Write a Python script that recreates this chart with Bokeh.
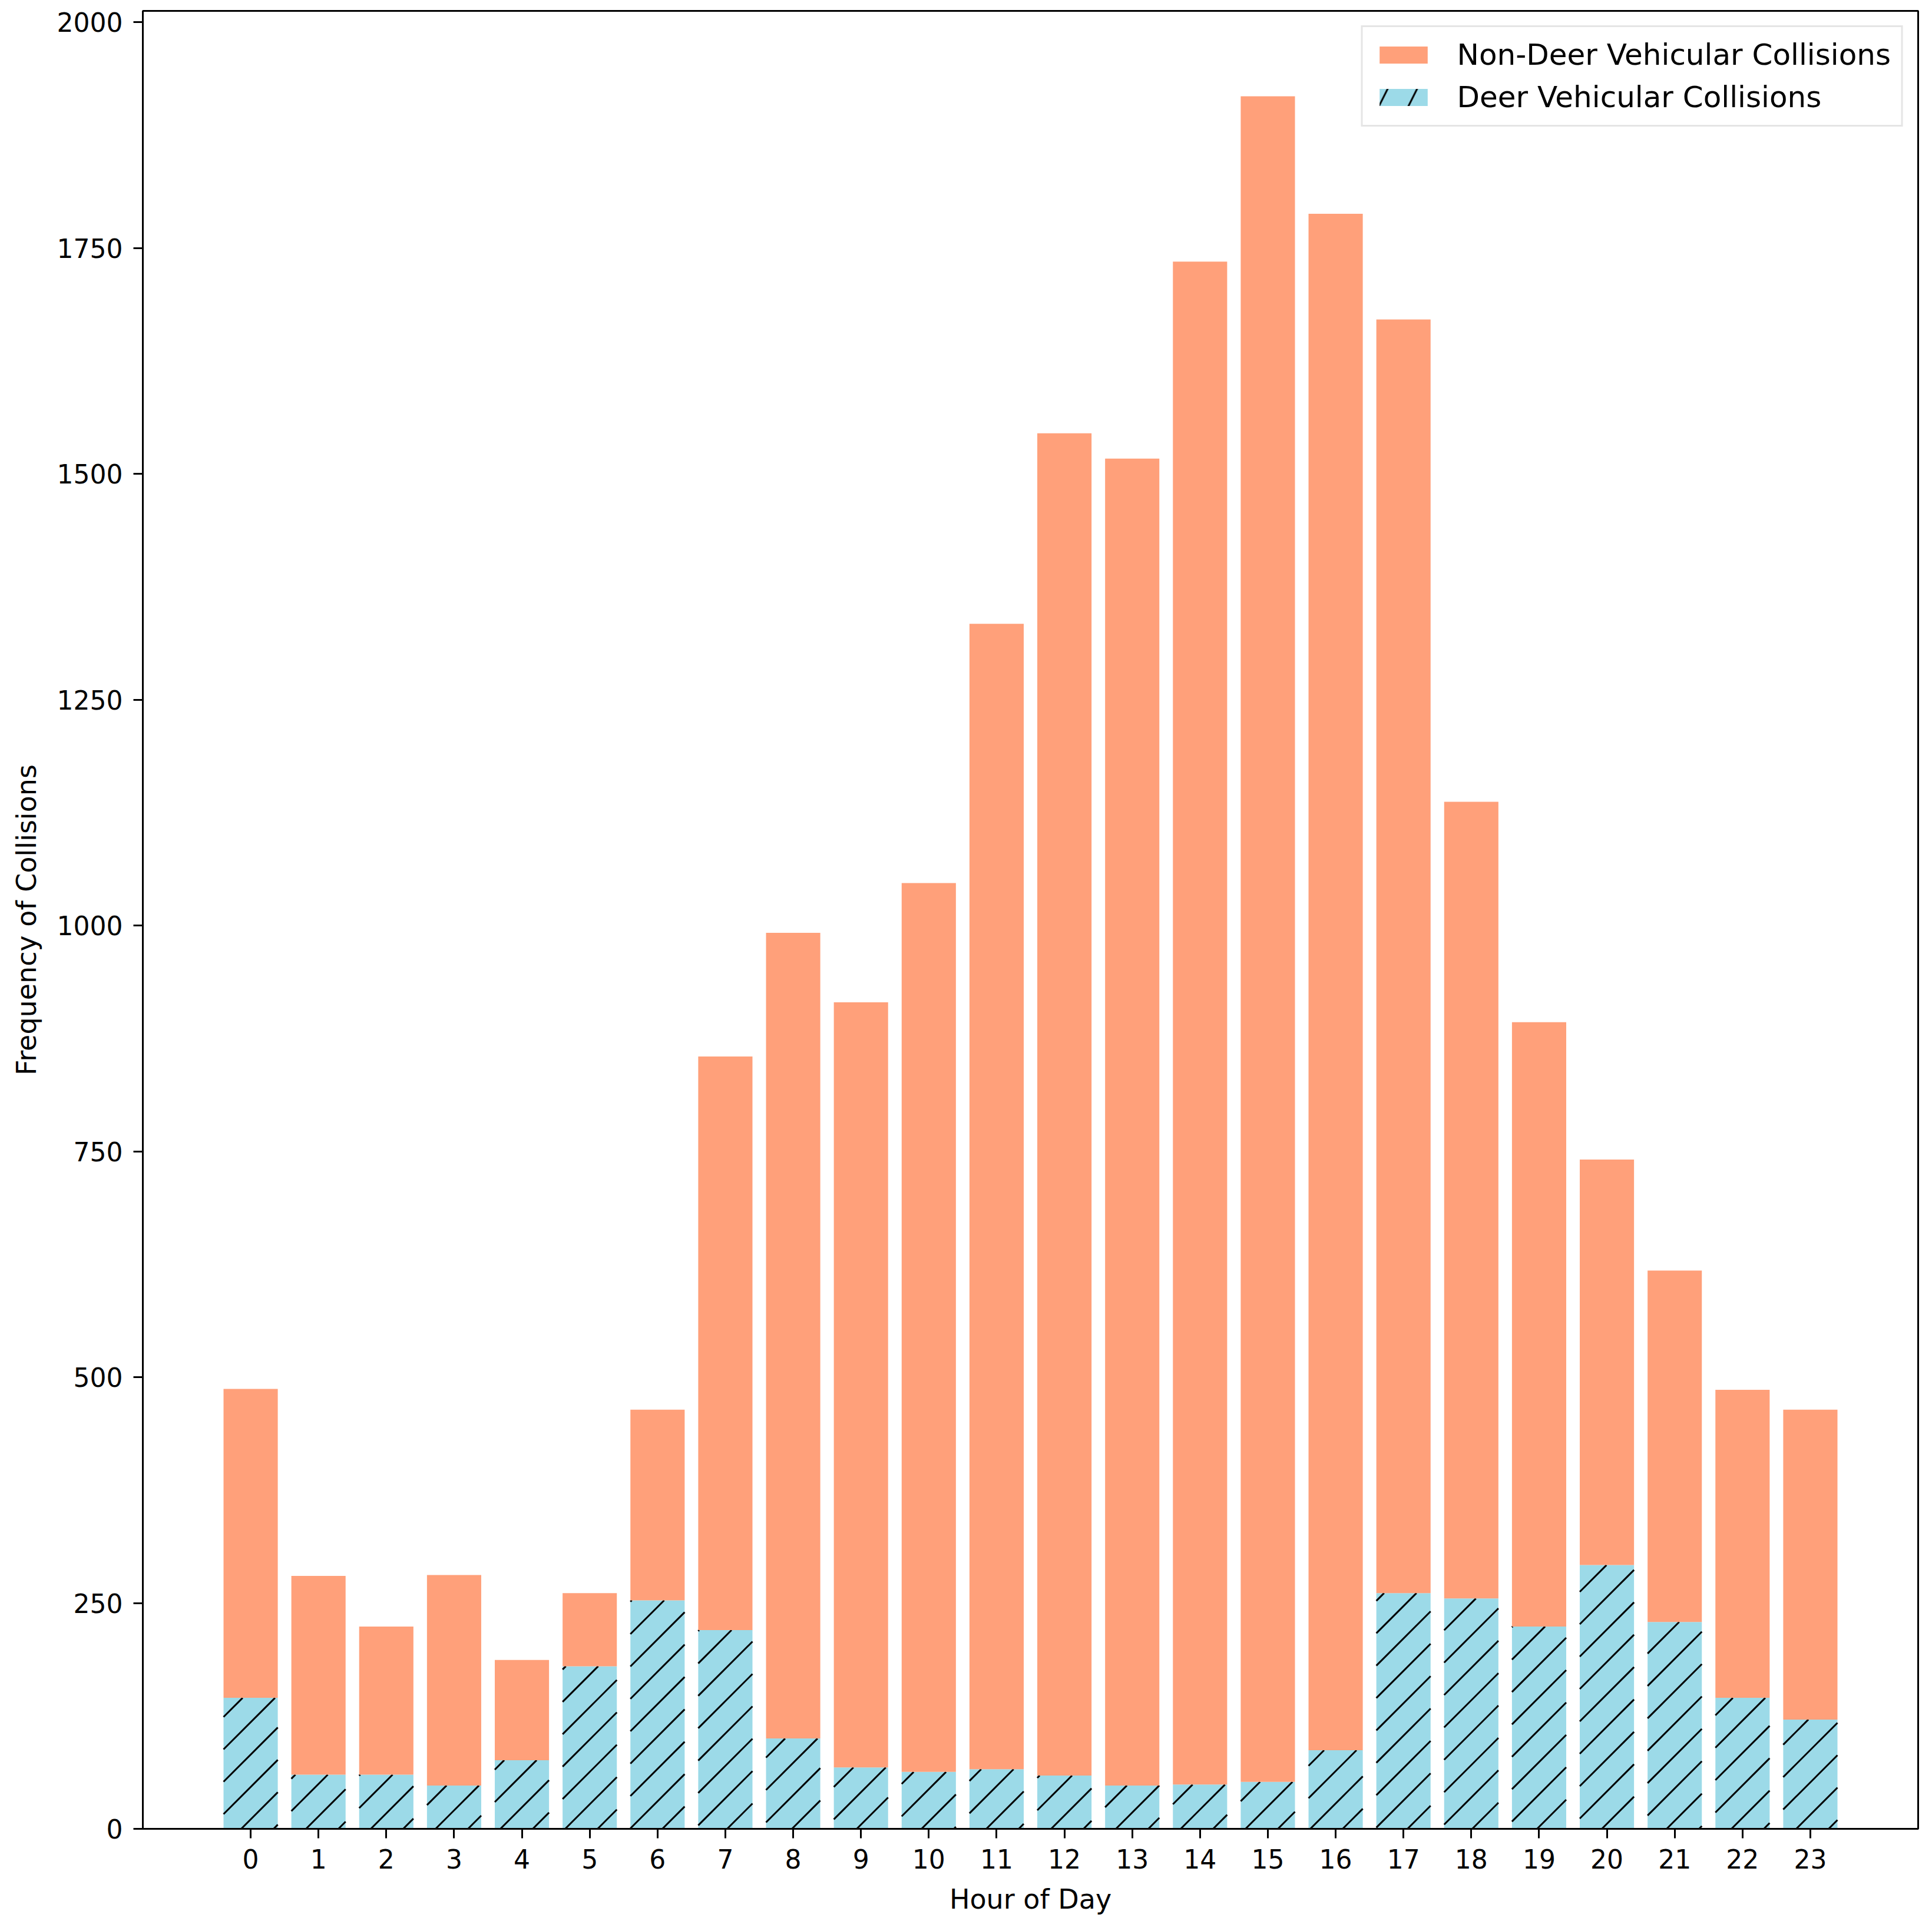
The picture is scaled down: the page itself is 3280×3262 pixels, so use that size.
import numpy as np
from bokeh.plotting import figure
from bokeh.embed import file_html
from bokeh.resources import INLINE
from bokeh.models import (
    ColumnDataSource,
    Range1d,
    FixedTicker,
    Legend,
    LegendItem,
)

# ── Data ──────────────────────────────────────────────────
hours = list(range(24))
deer = [145, 60, 60, 48, 76, 180, 253, 220, 100, 68, 63, 66,
        59, 48, 49, 52, 87, 261, 255, 224, 292, 229, 145, 121]
non_deer = [342, 220, 164, 233, 111, 81, 211, 635, 892, 847, 984, 1268,
            1486, 1469, 1686, 1866, 1701, 1410, 882, 669, 449, 389, 341, 343]
y_ticks = [0, 250, 500, 750, 1000, 1250, 1500, 1750, 2000]

COLORS = {
    "non_deer": "#FFA07A",
    "deer": "#9CDAE8",
    "hatch": "#000000",
    "axis": "#000000",
    "legend_border": "#cccccc",
}
FONT = "DejaVu Sans"

# ── Layout ─────────────────────────────────────────────────
WIDTH, HEIGHT = 3272, 3254
BORDER_L, BORDER_R, BORDER_T = 242, 16, 18
FRAME_H = 3087                      # height left for the frame below the top border
X_LO, X_HI = -1.59, 24.59
Y_HI = 2012.6
BAR_W = 0.8

src = ColumnDataSource(dict(
    hour=hours,
    deer=deer,
    non_deer=non_deer,
    total=(np.array(deer) + np.array(non_deer)).tolist(),
))

# ── 45° "/" hatch lines clipped to each deer bar ───────────
# (bokeh's own "/" pattern is steeper, so the lines are built in screen space)
sx = (WIDTH - BORDER_L - BORDER_R) / (X_HI - X_LO)   # px per hour
sy = FRAME_H / Y_HI                                   # px per collision
step, phase = 55.0, 2.0
hx0, hy0, hx1, hy1 = [], [], [], []
for h, d in zip(hours, deer):
    left = (h - BAR_W / 2 - X_LO) * sx
    right = (h + BAR_W / 2 - X_LO) * sx
    top = d * sy
    k0 = int(np.floor((left - top - phase) / step))
    k1 = int(np.ceil((right - phase) / step))
    for k in range(k0, k1 + 1):
        c = phase + k * step
        lo, hi = max(left, c), min(right, c + top)
        if hi - lo > 1:
            hx0.append(lo / sx + X_LO)
            hy0.append((lo - c) / sy)
            hx1.append(hi / sx + X_LO)
            hy1.append((hi - c) / sy)
hatch_src = ColumnDataSource(dict(x0=hx0, y0=hy0, x1=hx1, y1=hy1))

p = figure(
    width=WIDTH,
    height=HEIGHT,
    x_range=Range1d(X_LO, X_HI),
    y_range=Range1d(0, Y_HI),
    output_backend="svg",
    toolbar_location=None,
    tools="",
    min_border_left=BORDER_L,
    min_border_right=BORDER_R,
    min_border_top=BORDER_T,
    min_border_bottom=140,
    background_fill_color="white",
    border_fill_color="white",
)

# Bars: deer at the bottom (hatched), non-deer stacked on top
p.vbar(x="hour", bottom=0, top="deer", width=BAR_W, source=src,
       fill_color=COLORS["deer"], line_color=None)
p.segment("x0", "y0", "x1", "y1", source=hatch_src,
          line_color=COLORS["hatch"], line_width=3)
r_non = p.vbar(x="hour", bottom="deer", top="total", width=BAR_W, source=src,
               fill_color=COLORS["non_deer"], line_color=None)

# off-screen renderer that only supplies the hatched legend patch
r_deer_key = p.vbar(x="x", top="top", width=BAR_W,
                    source=ColumnDataSource(dict(x=[-100], top=[1])),
                    fill_color=COLORS["deer"], line_color=None,
                    hatch_pattern="/", hatch_color=COLORS["hatch"],
                    hatch_weight=3, hatch_scale=100)

# Axes styling
p.xgrid.grid_line_color = None
p.ygrid.grid_line_color = None
p.outline_line_color = COLORS["axis"]
p.outline_line_width = 3
p.outline_line_alpha = 1

p.xaxis.ticker = FixedTicker(ticks=hours)
p.yaxis.ticker = FixedTicker(ticks=y_ticks)
p.xaxis.axis_label = "Hour of Day"
p.yaxis.axis_label = "Frequency of Collisions"

for ax in (p.xaxis, p.yaxis):
    ax.axis_line_color = COLORS["axis"]
    ax.axis_line_width = 3
    ax.major_tick_line_color = COLORS["axis"]
    ax.major_tick_line_width = 3
    ax.major_tick_out = 16
    ax.major_tick_in = 0
    ax.minor_tick_line_color = None
    ax.major_label_text_font = FONT
    ax.major_label_text_font_size = "44px"
    ax.major_label_text_color = "black"
    ax.major_label_standoff = 18
    ax.axis_label_text_font = FONT
    ax.axis_label_text_font_size = "46px"
    ax.axis_label_text_font_style = "normal"
    ax.axis_label_text_color = "black"
    ax.axis_label_standoff = 22

# Legend
legend = Legend(
    items=[
        LegendItem(label="Non-Deer Vehicular Collisions", renderers=[r_non]),
        LegendItem(label="Deer Vehicular Collisions", renderers=[r_deer_key]),
    ],
    location="top_right",
    label_text_font=FONT,
    label_text_font_size="50px",
    label_text_color="black",
    glyph_width=102,
    glyph_height=36,
    label_standoff=40,
    padding=18,
    spacing=14,
    margin=25,
    border_line_color=COLORS["legend_border"],
    border_line_width=3,
    background_fill_color="white",
    background_fill_alpha=0.8,
)
p.add_layout(legend)

open("out.html", "w").write(file_html(p, INLINE))
